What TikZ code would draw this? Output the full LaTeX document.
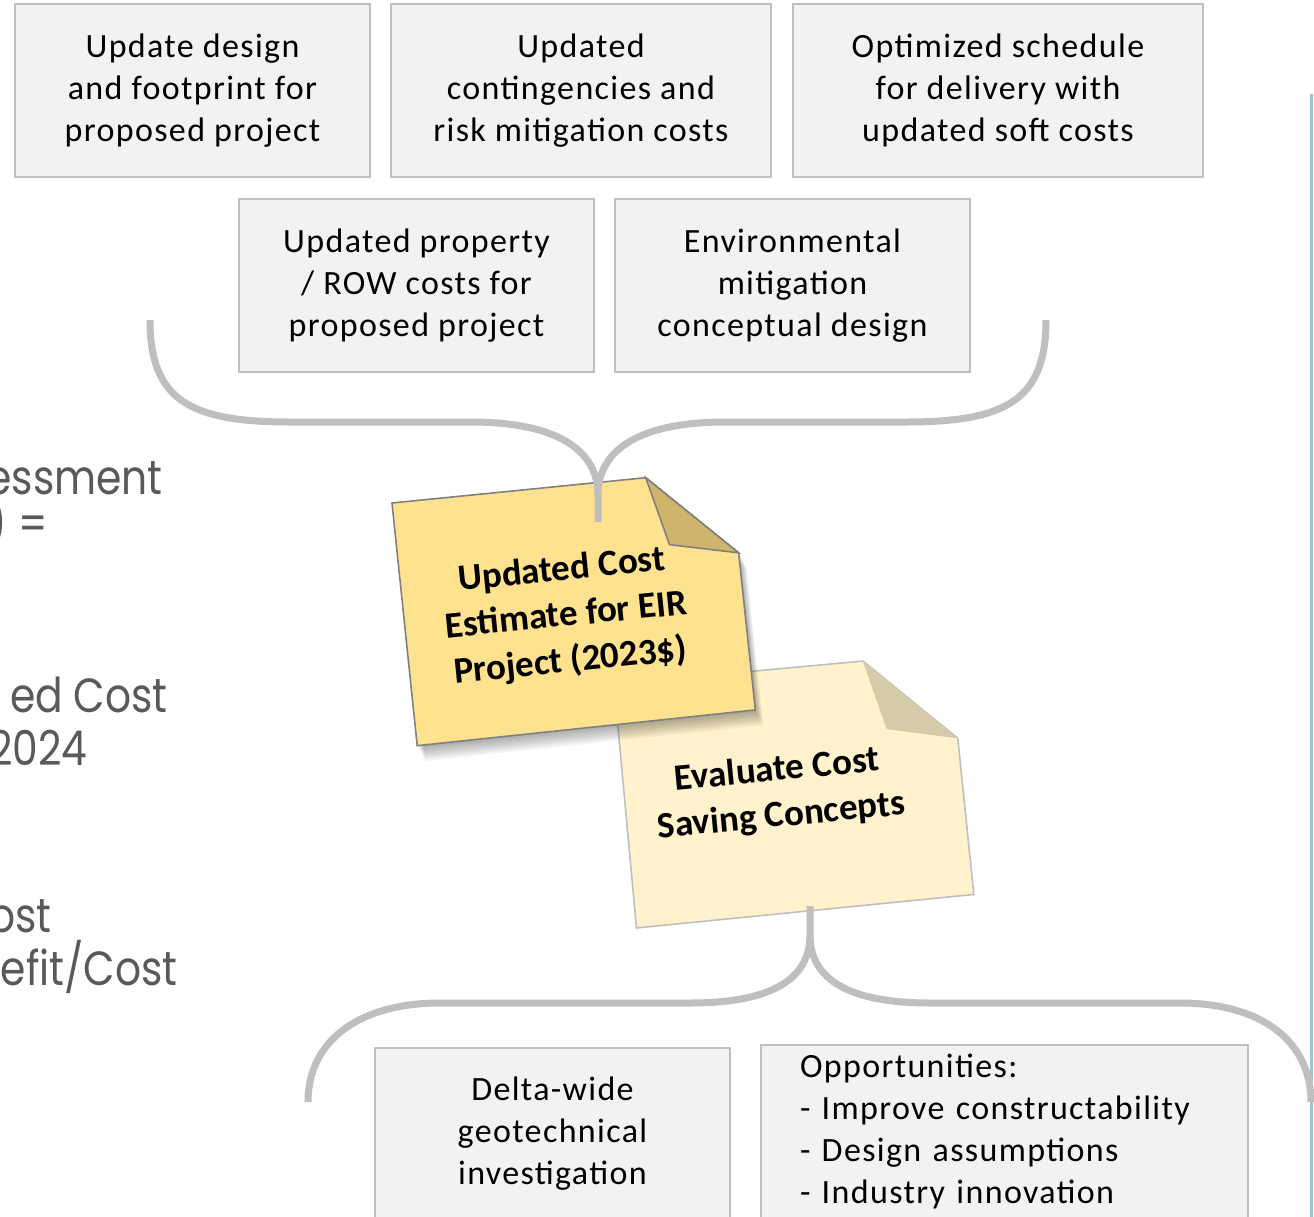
\documentclass[tikz,border=0pt]{standalone}
\usepackage{fontspec}
\setmainfont{Carlito}
\newfontfamily\gothic[FakeStretch=0.85]{Poppins}
\usepackage{tikz}
\usetikzlibrary{positioning}

\definecolor{boxfill}{HTML}{F2F2F2}
\definecolor{boxline}{HTML}{BFBFBF}
\definecolor{bracegray}{HTML}{BFBFBF}
\definecolor{slidegray}{HTML}{595959}
\definecolor{slideblue}{HTML}{9DC3D6}
\definecolor{noteyellow}{HTML}{FFE28F}
\definecolor{notefold}{HTML}{CFB56B}
\definecolor{notepale}{HTML}{FFF2CC}
\definecolor{palefold}{HTML}{D5CBA8}

\begin{document}
\begin{tikzpicture}[x=0.5pt, y=0.5pt,
    inputbox/.style={draw=boxline, line width=1pt, fill=boxfill, align=center,
                     minimum height=86.5pt, inner sep=0pt,
                     font=\fontsize{17}{21}\selectfont\addfontfeature{LetterSpace=4}},
    notetext/.style={align=center, transform shape, inner sep=0pt,
                     font=\fontsize{18.5}{23}\selectfont\bfseries},
    brace/.style={draw=bracegray, line width=3.5pt},
    sidetext/.style={anchor=base east, inner sep=0pt, text=slidegray,
                     font=\gothic\fontsize{24}{26}\selectfont}]
  \useasboundingbox (0,0) rectangle (1314,-1217);
  \fill[white] (0,0) rectangle (1314,-1217);

  % cost inputs
  \node[inputbox, minimum width=177.5pt] (design) at (192.5,-90.5)
    {Update design\\and footprint for\\proposed project};
  \node[inputbox, minimum width=190pt] (risk) at (581,-90.5)
    {Updated\\contingencies and\\risk mitigation costs};
  \node[inputbox, minimum width=205pt] (schedule) at (998,-90.5)
    {Optimized schedule\\for delivery with\\updated soft costs};
  \node[inputbox, minimum width=177.5pt] (property) at (416.5,-285.5)
    {Updated property\\/ ROW costs for\\proposed project};
  \node[inputbox, minimum width=177.5pt] (enviro) at (792.5,-285.5)
    {Environmental\\mitigation\\conceptual design};

  % saving inputs
  \node[inputbox, minimum width=177.5pt] (geotech) at (552.5,-1134)
    {Delta-wide\\geotechnical\\investigation};
  \node[inputbox, minimum width=243.5pt, text width=204.5pt, inner xsep=19.5pt,
        align=left] (opps) at (1004.5,-1131.5)
    {Opportunities:\\- Improve constructability\\- Design assumptions\\- Industry innovation};

  % slide text cut off at the left
  \node[sidetext] (side1) at (163,-494) {essment};
  \node[sidetext] (side2) at (48,-540) {) =};
  \node[sidetext] (side3) at (168,-712) {ed Cost};
  \node[sidetext] (side4) at (88,-765) {2024};
  \node[sidetext] (side5) at (52,-932) {ost};
  \node[sidetext] (side6) at (178,-985) {efit/Cost};

  \draw[slideblue, line width=1.5pt] (1311,-94) -- (1311,-1217);

  % second note
  \begin{scope}[shift={(614,-684)}, rotate=5.5]
    \filldraw[fill=notepale, draw=boxline, line width=0.8pt]
      (0,0) -- (250,-1) -- (337,-87) -- (338,-244) -- (-1,-245) -- cycle;
    \fill[palefold] (250,-1) -- (267,-71) -- (337,-87) -- cycle;
    \node[notetext] (evaluate) at (154,-125) {Evaluate Cost\\Saving Concepts};
  \end{scope}

  % first note
  \begin{scope}[shift={(392,-503)}, rotate=5.7]
    \foreach \k in {2,4,...,16}
      \fill[black, opacity=0.045] ([shift={(0.4*\k,-\k)}]0,0) -- ++(255,0)
        -- ++(85,-84) -- ++(1,-158) -- ++(-340,-2) -- cycle;
    \filldraw[fill=noteyellow, draw=gray, line width=0.8pt]
      (0,0) -- (255,0) -- (340,-84) -- (341,-242) -- (1,-244) -- cycle;
    \filldraw[fill=notefold, draw=gray, line width=0.8pt]
      (255,0) -- (272,-69) -- (340,-84) -- cycle;
    \node[notetext] (estimate) at (162,-130)
      {Updated Cost\\Estimate for EIR\\Project (2023\$)};
  \end{scope}

  % braces
  \coordinate (topleft) at (150,-320);
  \coordinate (topright) at (1046,-320);
  \coordinate (costtip) at (598,-522);
  \coordinate (evaltip) at (810,-906);
  \coordinate (botleft) at (308,-1102);
  \coordinate (botright) at (1311,-1102);

  \draw[brace] (topleft) .. controls ++(0,-80) and (190,-422) .. (290,-422)
    -- (470,-422) .. controls (565,-422) and (598,-455) .. (598,-495) -- (costtip);
  \draw[brace] (topright) .. controls ++(0,-80) and (1006,-422) .. (906,-422)
    -- (726,-422) .. controls (631,-422) and (598,-455) .. (598,-495);
  \draw[brace] (evaltip) -- (810,-935) .. controls (810,-980) and (770,-1003) .. (690,-1003)
    -- (440,-1003) .. controls (360,-1003) and (308,-1040) .. (botleft);
  \draw[brace] (810,-935) .. controls (810,-980) and (850,-1003) .. (930,-1003)
    -- (1180,-1003) .. controls (1260,-1003) and (1311,-1040) .. (botright);
\end{tikzpicture}
\end{document}
